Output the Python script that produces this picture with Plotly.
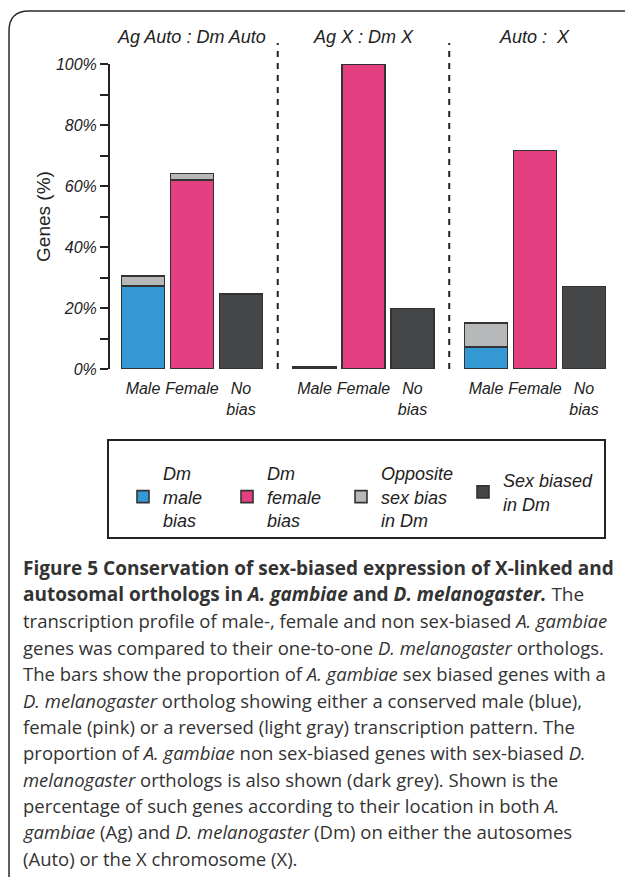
import plotly.graph_objects as go

# ---------------- data ----------------
groups = ["Ag Auto : Dm Auto", "Ag X : Dm X", "Auto :  X"]
categories = ["Male", "Female", "No<br>bias"]
y_tickvals = [0, 10, 20, 30, 40, 50, 60, 70, 80, 90, 100]
y_ticktext = ["0%", "", "20%", "", "40%", "", "60%", "", "80%", "", "100%"]

# values (%) for each group x category, in order
dm_male_bias = [27.2, None, None, 0.6, None, None, 7.3, None, None]
dm_female_bias = [None, 62.0, None, None, 100.0, None, None, 71.6, None]
opposite_sex_bias = [3.3, 2.1, None, None, None, None, 7.7, None, None]
sex_biased_in_dm = [None, None, 24.6, None, None, 19.9, None, None, 27.0]

series_names = ["Dm<br>male<br>bias", "Dm<br>female<br>bias",
                "Opposite<br>sex bias<br>in Dm", "Sex biased<br>in Dm"]
series_values = [dm_male_bias, dm_female_bias, opposite_sex_bias, sex_biased_in_dm]

caption_lines = [
    "<b>Figure 5 Conservation of sex-biased expression of X-linked and</b>",
    "<b>autosomal orthologs in <i>A. gambiae</i> and <i>D. melanogaster.</i></b> The",
    "transcription profile of male-, female and non sex-biased <i>A. gambiae</i>",
    "genes was compared to their one-to-one <i>D. melanogaster</i> orthologs.",
    "The bars show the proportion of <i>A. gambiae</i> sex biased genes with a",
    "<i>D. melanogaster</i> ortholog showing either a conserved male (blue),",
    "female (pink) or a reversed (light gray) transcription pattern. The",
    "proportion of <i>A. gambiae</i> non sex-biased genes with sex-biased <i>D.</i>",
    "<i>melanogaster</i> orthologs is also shown (dark grey). Shown is the",
    "percentage of such genes according to their location in both <i>A.</i>",
    "<i>gambiae</i> (Ag) and <i>D. melanogaster</i> (Dm) on either the autosomes",
    "(Auto) or the X chromosome (X).",
]

# ---------------- styling / layout ----------------
colors = ["#3398d3", "#e43f80", "#b7b8ba", "#454648"]
INK = "#222222"
W, H = 625, 877
ML, MR, MT, MB = 110, 15, 64, 508
PW, PH = W - ML - MR, H - MT - MB
GROUP_STEP = 3.5
BAR_W = 0.88
CHART_FONT = "Liberation Sans, Arial, sans-serif"
legend_px = [(123, 455), (227, 455), (341, 455), (463, 462)]  # legend anchor pixels


def px_x(px):
    return (px - ML) / PW


def px_y(py):
    return (MT + PH - py) / PH


positions = [g * GROUP_STEP + i for g in range(len(groups)) for i in range(len(categories))]
tick_labels = categories * len(groups)

fig = go.Figure()
legend_ids = ["legend"] + ["legend%d" % (k + 1) for k in range(1, len(series_names))]
for name, vals, col, lid in zip(series_names, series_values, colors, legend_ids):
    fig.add_trace(go.Bar(
        x=positions, y=vals, name=name, width=BAR_W, legend=lid,
        marker=dict(color=col, line=dict(color="#333333", width=1.6)),
    ))

# group separators (dashed)
for g in range(len(groups) - 1):
    xs = g * GROUP_STEP + (len(categories) - 1) + (GROUP_STEP - (len(categories) - 1)) / 2
    fig.add_shape(type="line", xref="x", yref="paper", x0=xs, x1=xs,
                  y0=0, y1=px_y(43), line=dict(color=INK, width=2, dash="6px,6px"))

# group titles
for g, title in enumerate(groups):
    fig.add_annotation(x=g * GROUP_STEP + (len(categories) - 1) / 2, y=px_y(37),
                       xref="x", yref="paper", text=title, showarrow=False,
                       xanchor="center", yanchor="middle",
                       font=dict(family=CHART_FONT, size=18, color=INK, style="italic"))

# outer panel border (rounded top-left corner)
path = "M {},{} L {},{} Q {},{} {},{} L {},{}".format(
    px_x(9), px_y(880), px_x(9), px_y(31), px_x(9), px_y(11), px_x(29), px_y(11),
    px_x(630), px_y(11))
fig.add_shape(type="path", xref="paper", yref="paper", path=path,
              line=dict(color="#2a2a2a", width=1.5))

# legend box
fig.add_shape(type="rect", xref="paper", yref="paper",
              x0=px_x(108), x1=px_x(605), y0=px_y(538), y1=px_y(440),
              line=dict(color=INK, width=2))

# caption
for k, line in enumerate(caption_lines):
    fig.add_annotation(x=px_x(21), y=px_y(568 + k * 26.4), xref="paper", yref="paper",
                       text=line, showarrow=False, xanchor="left", yanchor="middle",
                       font=dict(family="Open Sans, sans-serif", size=19 if k < 2 else 18.5,
                                 color="#333333"))

legend_layout = {}
for lid, (lx, ly) in zip(legend_ids, legend_px):
    legend_layout[lid] = dict(
        orientation="v", x=px_x(lx), y=px_y(ly), xanchor="left", yanchor="top",
        font=dict(family=CHART_FONT, size=18, color=INK, style="italic"),
        bgcolor="rgba(0,0,0,0)", borderwidth=0, valign="middle")

fig.update_layout(
    width=W, height=H, autosize=False,
    margin=dict(l=ML, r=MR, t=MT, b=MB, pad=0),
    paper_bgcolor="white", plot_bgcolor="white",
    barmode="stack",
    font=dict(family=CHART_FONT, color=INK),
    showlegend=True,
    **legend_layout,
)
fig.update_xaxes(range=[-0.673, -0.673 + PW / 49.0], tickvals=positions, ticktext=tick_labels,
                 showline=False, showgrid=False, zeroline=False, ticks="",
                 ticklabelstandoff=8,
                 tickfont=dict(family=CHART_FONT, size=16, color=INK, style="italic"))
fig.update_yaxes(range=[0, 100], tickvals=y_tickvals, ticktext=y_ticktext,
                 showline=True, linecolor=INK, linewidth=2,
                 ticks="outside", ticklen=8, tickwidth=2, tickcolor=INK,
                 showgrid=False, zeroline=False,
                 tickfont=dict(family=CHART_FONT, size=16, color=INK, style="italic"),
                 title=dict(text="Genes (%)", standoff=0,
                            font=dict(family=CHART_FONT, size=19, color=INK)))

fig.write_html("out.html", config={"displayModeBar": False},
               post_script="document.body.style.margin='0';document.body.style.overflow='hidden';")
